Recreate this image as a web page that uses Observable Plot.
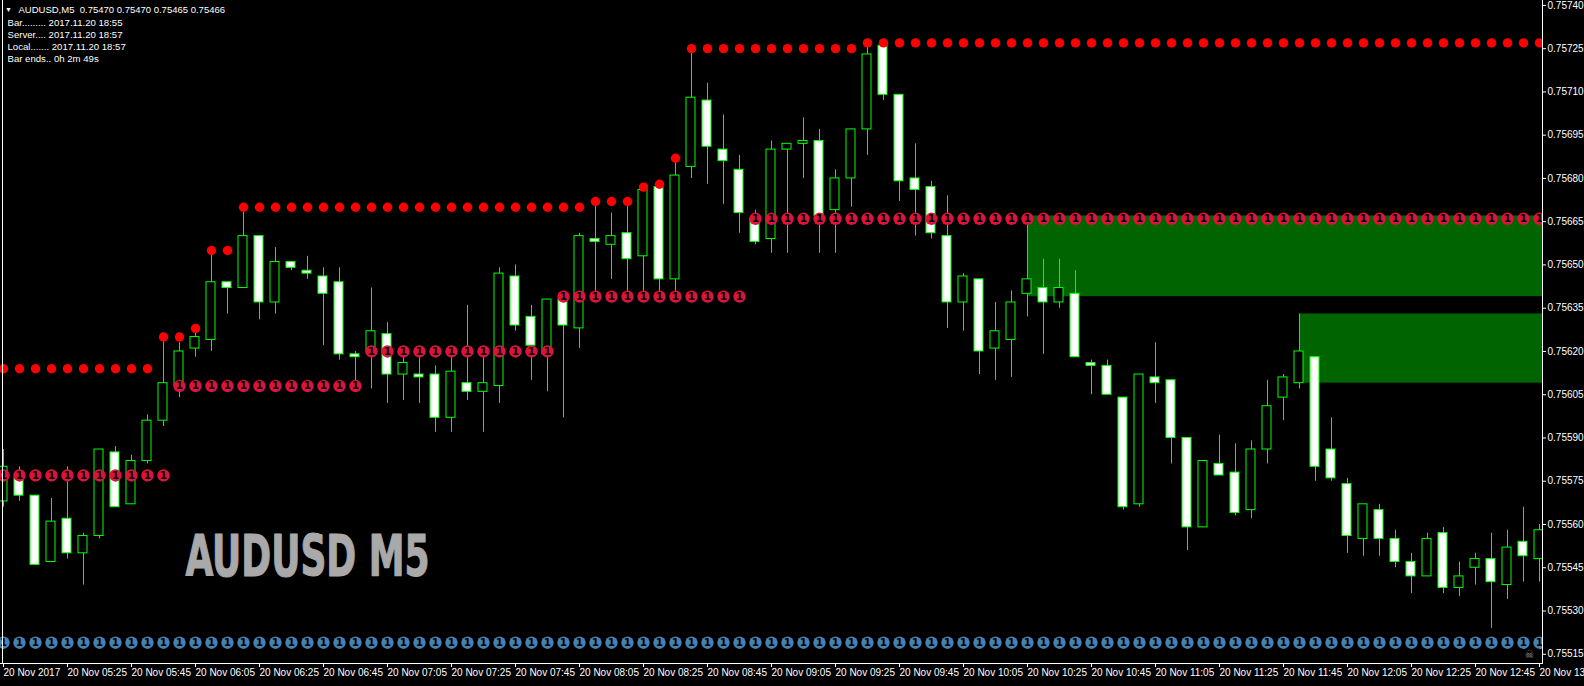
<!DOCTYPE html>
<html>
<head>
<meta charset="utf-8">
<script src="https://cdn.jsdelivr.net/npm/d3@7"></script>
<script src="https://cdn.jsdelivr.net/npm/@observablehq/plot@0.6"></script>
<style>
html,body{margin:0;padding:0;background:#000;overflow:hidden;}
#chart{width:1584px;height:686px;}
</style>
</head>
<body>
<div id="chart"></div>
<script>
// ---- Candle data (AUDUSD M5, bars 05:05 .. 13:05) ----
const opens = [
.75568,.75576,.75570,.75547,.75562,.75550,.75556,.75585,.75567,.75582,
.75596,.75608,.75621,.75624,.75644,.75642,.75660,.75637,.75651,.75648,
.75646,.75644,.75619,.75620,.75626,.75612,.75612,.75612,.75597,.75609,
.75606,.75608,.75646,.75632,.75619,.75638,.75628,.75659,.75657,.75661,
.75653,.75677,.75645,.75684,.75707,.75690,.75683,.75666,.75659,.75690,
.75692,.75693,.75669,.75680,.75697,.75726,.75709,.75680,.75677,.75660,
.75637,.75645,.75621,.75624,.75640,.75642,.75637,.75640,.75616,.75615,
.75604,.75567,.75611,.75610,.75590,.75559,.75581,.75578,.75565,.75586,
.75604,.75609,.75618,.75586,.75574,.75555,.75565,.75555,.75547,.75542,
.75557,.75538,.75545,.75548,.75539,.75554,.75548];
const highs = [
.75586,.75580,.75570,.75569,.75580,.75557,.75586,.75587,.75584,.75598,
.75625,.75623,.75628,.75655,.75644,.75670,.75660,.75656,.75651,.75653,
.75649,.75649,.75620,.75642,.75630,.75620,.75620,.75615,.75620,.75636,
.75620,.75649,.75650,.75636,.75638,.75639,.75661,.75671,.75668,.75672,
.75677,.75678,.75686,.75725,.75713,.75702,.75688,.75669,.75693,.75692,
.75701,.75697,.75683,.75697,.75727,.75727,.75709,.75692,.75679,.75674,
.75647,.75645,.75637,.75641,.75667,.75652,.75652,.75648,.75617,.75617,
.75604,.75612,.75623,.75610,.75590,.75582,.75591,.75588,.75589,.75610,
.75612,.75633,.75618,.75597,.75576,.75567,.75567,.75558,.75550,.75557,
.75559,.75547,.75550,.75557,.75558,.75566,.75560];
const lows = [
.75566,.75568,.75546,.75547,.75548,.75539,.75555,.75566,.75567,.75581,
.75594,.75604,.75618,.75620,.75633,.75642,.75631,.75633,.75648,.75645,
.75622,.75617,.75608,.75607,.75602,.75603,.75602,.75592,.75592,.75603,
.75592,.75602,.75627,.75610,.75606,.75597,.75621,.75639,.75645,.75639,
.75639,.75639,.75639,.75680,.75678,.75671,.75661,.75657,.75654,.75654,
.75680,.75654,.75654,.75670,.75688,.75707,.75672,.75660,.75659,.75628,
.75627,.75612,.75610,.75611,.75632,.75619,.75635,.75618,.75605,.75605,
.75565,.75566,.75602,.75581,.75551,.75559,.75577,.75563,.75562,.75581,
.75596,.75607,.75575,.75575,.75550,.75549,.75549,.75545,.75536,.75542,
.75536,.75535,.75539,.75524,.75534,.75540,.75540];
const closes = [
.75580,.75570,.75546,.75561,.75550,.75556,.75586,.75566,.75582,.75596,
.75609,.75620,.75625,.75644,.75642,.75660,.75637,.75651,.75649,.75647,
.75640,.75619,.75618,.75627,.75612,.75616,.75611,.75597,.75613,.75606,
.75609,.75647,.75629,.75622,.75638,.75629,.75660,.75658,.75660,.75652,
.75676,.75645,.75681,.75708,.75691,.75686,.75668,.75658,.75690,.75692,
.75693,.75667,.75680,.75697,.75723,.75709,.75679,.75676,.75661,.75637,
.75646,.75620,.75627,.75637,.75645,.75637,.75642,.75618,.75615,.75605,
.75566,.75612,.75609,.75590,.75559,.75582,.75577,.75564,.75586,.75601,
.75611,.75620,.75580,.75576,.75556,.75567,.75555,.75547,.75542,.75555,
.75538,.75542,.75548,.75540,.75552,.75549,.75558];

// ---- Indicator levels (segments: first bar index, level) ----
const resStarts = [0, 10, 12, 13, 15, 37, 40, 41, 42, 43, 54];
const resLevels = [.75614, .75625, .75628, .75655, .75670, .75672, .75677, .75678, .75687, .75725, .75727];
const supStarts = [0, 11, 23, 35, 47];
const supLevels = [.75577, .75608, .75620, .75639, .75666];
const blueLevel = .75519;

// ---- Zones ----
const zoneStarts  = [64, 81];
const zoneTops    = [.75667, .75633];
const zoneBottoms = [.75639, .75609];

// ---- Axis ticks ----
const xTickLabels = ["20 Nov 2017","20 Nov 05:25","20 Nov 05:45","20 Nov 06:05","20 Nov 06:25","20 Nov 06:45",
"20 Nov 07:05","20 Nov 07:25","20 Nov 07:45","20 Nov 08:05","20 Nov 08:25","20 Nov 08:45","20 Nov 09:05",
"20 Nov 09:25","20 Nov 09:45","20 Nov 10:05","20 Nov 10:25","20 Nov 10:45","20 Nov 11:05","20 Nov 11:25",
"20 Nov 11:45","20 Nov 12:05","20 Nov 12:25","20 Nov 12:45","20 Nov 13:05"];
const yTicks = [0.75515,0.75530,0.75545,0.75560,0.75575,0.75590,0.75605,0.75620,0.75635,0.75650,0.75665,0.75680,0.75695,0.75710,0.75725,0.75740];

// ---- Texts ----
const headerText = "AUDUSD,M5\u00a0\u00a00.75470 0.75470 0.75465 0.75466";
const infoLines = ["Bar......... 2017.11.20 18:55","Server.... 2017.11.20 18:57","Local....... 2017.11.20 18:57","Bar ends.. 0h 2m 49s"];
const bigLabel = "AUDUSD M5";

function levelAt(starts, levels, i) {
  let v = levels[0];
  for (let j = 0; j < starts.length; j++) if (i >= starts[j]) v = levels[j];
  return v;
}
const bars = opens.map((o, i) => ({
  i, open: o, high: highs[i], low: lows[i], close: closes[i],
  res: levelAt(resStarts, resLevels, i),
  sup: levelAt(supStarts, supLevels, i),
  blue: blueLevel
}));
const zones = zoneStarts.map((s, j) => ({start: s, top: zoneTops[j], bottom: zoneBottoms[j]}));
const bodyLo = d => Math.min(d.open, d.close);
const bodyHi = d => Math.max(d.open, d.close) + (d.open === d.close ? 0.000003 : 0);
const lastX = 97;

const uiFont = "'Liberation Sans', Arial, sans-serif";
const infoText = (s, y) => Plot.text([s], {frameAnchor: "top-left", dx: 7, dy: y, lineAnchor: "middle",
  textAnchor: "start", fontSize: 9.6, fill: "#fff"});

const plot = Plot.plot({
  width: 1584,
  height: 686,
  marginLeft: 0,
  marginRight: 42,
  marginTop: 0,
  marginBottom: 23,
  style: {background: "#000", color: "#fff", fontFamily: uiFont, fontSize: "10px", overflow: "visible"},
  x: {type: "linear", domain: [-0.1875, 96.1875]},
  y: {type: "linear", domain: [0.755118, 0.757417]},
  marks: [
    Plot.rect(zones, {x1: "start", x2: () => lastX, y1: "bottom", y2: "top", fill: "#006400", clip: true}),
    Plot.ruleX(bars, {x: "i", y1: "low", y2: "high", stroke: "#00ff00", strokeWidth: 1, clip: true}),
    Plot.rect(bars, {x1: d => d.i - 0.3125, x2: d => d.i + 0.25, y1: bodyLo, y2: bodyHi,
      fill: d => d.close >= d.open ? "#000000" : "#ffffff", stroke: "#00ff00", strokeWidth: 1, clip: true}),
    Plot.dot(bars, {x: "i", y: "res", r: 4.7, fill: "#ff0000", clip: true}),
    Plot.dot(bars, {x: "i", y: "sup", r: 6.2, fill: "#dc143c", clip: true}),
    Plot.text(bars, {x: "i", y: "sup", text: () => "1", fill: "#000", fontSize: 10.5, fontWeight: "bold", fontFamily: "'DejaVu Sans', sans-serif", clip: true}),
    Plot.dot(bars, {x: "i", y: "blue", r: 6.2, fill: "#4682b4", clip: true}),
    Plot.text(bars, {x: "i", y: "blue", text: () => "1", fill: "#000", fontSize: 10.5, fontWeight: "bold", fontFamily: "'DejaVu Sans', sans-serif", clip: true}),
    Plot.frame({anchor: "left", stroke: "#fff", insetLeft: 2}),
    Plot.frame({anchor: "right", stroke: "#fff"}),
    Plot.frame({anchor: "bottom", stroke: "#fff"}),
    Plot.axisY(yTicks, {anchor: "right", tickSize: 3, tickPadding: 2, tickFormat: d => d.toFixed(5),
      fontSize: 10, label: null, stroke: "#fff", fill: "#fff"}),
    Plot.axisX(d3.range(0, 97, 4), {anchor: "bottom", tickSize: 4, tickPadding: 1,
      tickFormat: d => xTickLabels[Math.round(d / 4)], textAnchor: "start", fontSize: 10, label: null, stroke: "#fff", fill: "#fff"}),
    // header & info
    Plot.text(["\u25BC"], {frameAnchor: "top-left", dx: 8, dy: 9.5, lineAnchor: "middle", textAnchor: "middle", fontSize: 7, fill: "#fff"}),
    Plot.text([headerText], {frameAnchor: "top-left", dx: 18, dy: 9.5, lineAnchor: "middle", textAnchor: "start", fontSize: 9.5, fill: "#fff"}),
    infoText(infoLines[0], 22.3),
    infoText(infoLines[1], 34.5),
    infoText(infoLines[2], 46.7),
    infoText(infoLines[3], 58.9),
    // big watermark label
    Plot.text([bigLabel], {frameAnchor: "top-left", dx: 185, dy: 557, lineAnchor: "middle", textAnchor: "start",
      fontSize: 57, fontWeight: "bold", fontFamily: "'Liberation Sans Narrow', 'DejaVu Sans Condensed', 'Liberation Sans', sans-serif",
      fill: "#a9a9a9", stroke: "#a9a9a9", strokeWidth: 1.2}),
    // small skull icon bottom-right
    Plot.text(["\u2620"], {frameAnchor: "bottom-right", dx: -13, dy: -9, lineAnchor: "middle", textAnchor: "middle", fontSize: 11, fill: "#8a8a8a", fontFamily: "'DejaVu Sans', sans-serif"})
  ]
});

plot.querySelectorAll("text").forEach(t => {
  if (t.textContent === bigLabel) {
    t.setAttribute("textLength", "244");
    t.setAttribute("lengthAdjust", "spacingAndGlyphs");
  }
});
document.getElementById("chart").appendChild(plot);
</script>
</body>
</html>
